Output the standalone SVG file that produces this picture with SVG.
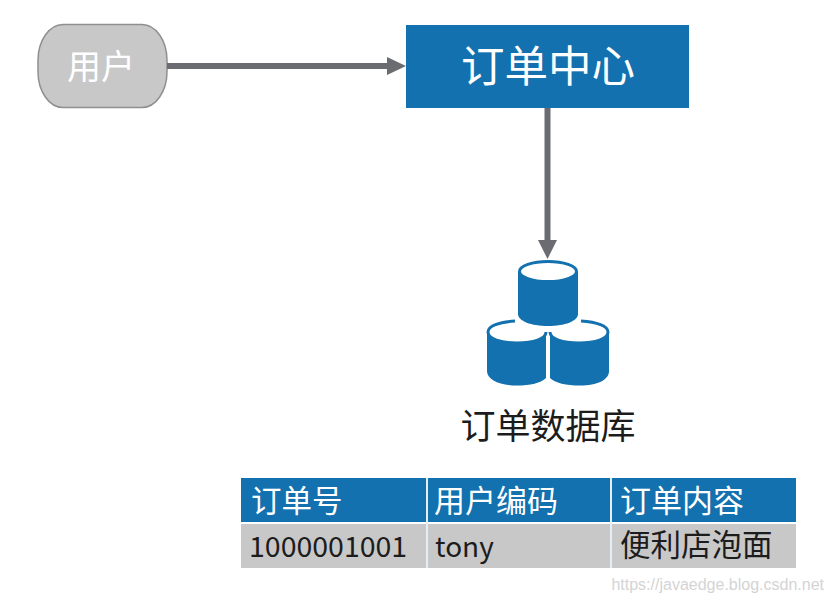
<svg xmlns="http://www.w3.org/2000/svg" width="834" height="602" viewBox="0 0 834 602">
<style>
text{font-family:"Noto Sans CJK SC","Noto Sans",sans-serif}
.w{fill:#fff}.k{fill:#1c1c1c}.b{fill:#1271ae}.g{fill:#c8c8c8}
.conn{stroke:#6b6c72;stroke-width:6;fill:none}
.head{fill:#6b6c72}
.top{fill:#fff;stroke:#1271ae;stroke-width:3}
</style>
<rect width="834" height="602" fill="#fff"/>
<g id="user">
<rect x="38" y="24.500" width="129" height="83" rx="25" ry="36" fill="#c8c8c8" stroke="#8f8f8f" stroke-width="1.500"/>
<text x="101" y="78.500" font-size="34" text-anchor="middle" class="w">用户</text>
</g>
<g id="order-center">
<rect x="406" y="25" width="283" height="83" class="b"/>
<text x="548" y="82" font-size="43.500" text-anchor="middle" class="w">订单中心</text>
</g>
<g id="connectors">
<path class="conn" d="M167 66H390"/>
<path class="head" d="M387 57L406 66L387 75Z"/>
<path class="conn" d="M547.500 108V241"/>
<path class="head" d="M538 240H557L547.500 259Z"/>
</g>
<g id="order-db">
<g id="cyl-left">
<path class="b" d="M487 332V371C487 380 500 385.500 517 385.500C530 385.500 541 383 546 378V332Z"/>
<path d="M515 321C499 322 488 326 488 332C488 339 501 343 517 343C533 343 546 339 546 332" fill="#fff" stroke="#1271ae" stroke-width="3"/>
</g>
<g id="cyl-right">
<path class="b" d="M550 332V378C555 383 566 385.500 580 385.500C597 385.500 609 380 609 371V332Z"/>
<path d="M581 321C597 322 608 326 608 332C608 339 595 343 579 343C563 343 550 339 550 332" fill="#fff" stroke="#1271ae" stroke-width="3"/>
</g>
<g id="cyl-top">
<path class="b" d="M518 272V314C518 321 531 326 548 326C565 326 578 321 578 314V272Z"/>
<ellipse class="top" cx="548" cy="271.500" rx="28.500" ry="10"/>
</g>
<text x="548" y="439" font-size="35" text-anchor="middle" class="k">订单数据库</text>
</g>
<g id="order-table">
<rect x="241" y="478" width="555" height="44" class="b"/>
<rect x="241" y="524" width="555" height="44" class="g"/>
<path d="M427 478V568M611 478V568" stroke="#e4eef5" stroke-width="2"/>
<text x="251" y="512" font-size="30.500" class="w">订单号</text>
<text x="434" y="512" font-size="31" class="w">用户编码</text>
<text x="620" y="512" font-size="31" class="w">订单内容</text>
<text x="249" y="557" font-size="28.500" class="k">1000001001</text>
<text x="435" y="557" font-size="28" class="k">tony</text>
<text x="620" y="556" font-size="30.500" class="k">便利店泡面</text>
</g>
<text id="watermark" x="824" y="590" font-size="16" text-anchor="end" style="font-family:'Liberation Sans',sans-serif" fill="#d4d4d4">https://javaedge.blog.csdn.net</text>
</svg>
